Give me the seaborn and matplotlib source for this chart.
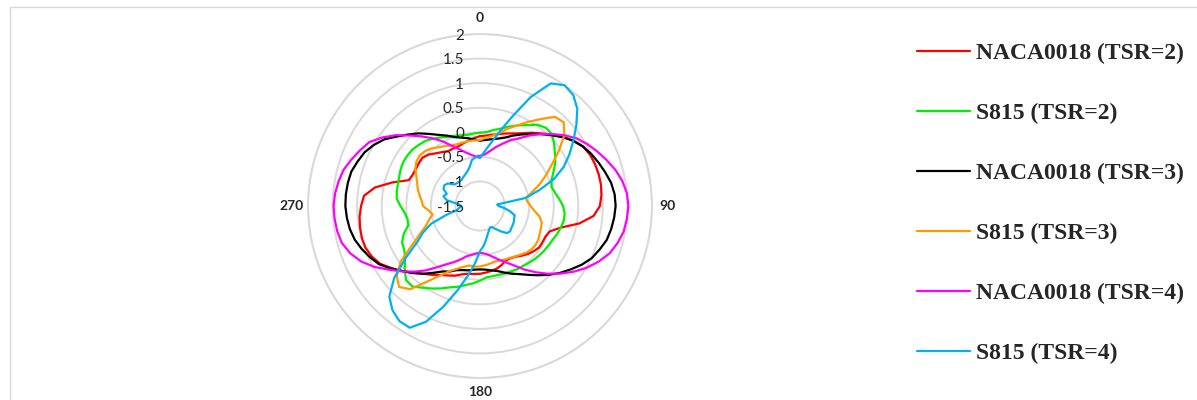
import numpy as np
import pandas as pd
import matplotlib
matplotlib.use("Agg")
import matplotlib.pyplot as plt
import matplotlib.transforms as mtransforms
from matplotlib.lines import Line2D
from matplotlib.font_manager import FontProperties
import seaborn as sns

# ---------------- data (azimuth in degrees, clockwise from top, 5 deg step) ----
series_names = ["NACA0018 (TSR=2)", "S815 (TSR=2)", "NACA0018 (TSR=3)",
                "S815 (TSR=3)", "NACA0018 (TSR=4)", "S815 (TSR=4)"]
series_colors = ["#ff0000", "#00f000", "#000000", "#ff9900", "#ff00ff", "#00b0f0"]

azimuth = list(range(0, 360, 5))

naca_tsr2 = [-0.08, -0.06, -0.03, 0.02, 0.07, 0.13, 0.21, 0.32, 0.43, 0.56,
             0.70, 0.81, 0.92, 0.97, 0.99, 1.00, 1.00, 0.98, 0.94, 0.82,
             0.55, 0.20, 0.01, -0.03, -0.03, -0.03, -0.07, -0.12, -0.18, -0.24,
             -0.27, -0.27, -0.22, -0.18, -0.16, -0.14, -0.12, -0.11, -0.10, -0.06,
             0.01, 0.06, 0.12, 0.21, 0.30, 0.42, 0.56, 0.70, 0.85, 0.93,
             0.98, 0.99, 0.98, 0.96, 0.92, 0.87, 0.67, 0.35, 0.04, 0.01,
             0.01, 0.02, 0.03, -0.02, -0.10, -0.16, -0.21, -0.21, -0.21, -0.18,
             -0.15, -0.11]

s815_tsr2 = [-0.01, 0.01, 0.07, 0.13, 0.22, 0.31, 0.40, 0.52, 0.58, 0.57,
             0.47, 0.36, 0.27, 0.15, 0.05, 0.01, 0.05, 0.12, 0.19, 0.23,
             0.23, 0.20, 0.17, 0.13, 0.11, 0.09, 0.07, 0.05, 0.02, 0.00,
             -0.01, -0.03, -0.04, -0.05, -0.05, -0.04, 0.02, 0.08, 0.13, 0.20,
             0.26, 0.35, 0.44, 0.53, 0.64, 0.63, 0.50, 0.36, 0.28, 0.25,
             0.15, 0.01, 0.00, 0.04, 0.12, 0.20, 0.22, 0.23, 0.25, 0.28,
             0.30, 0.30, 0.29, 0.26, 0.23, 0.17, 0.11, 0.05, 0.02, -0.01,
             -0.03, -0.02]

naca_tsr3 = [-0.17, -0.15, -0.12, -0.08, -0.02, 0.08, 0.18, 0.29, 0.41, 0.54,
             0.68, 0.82, 0.92, 1.00, 1.07, 1.14, 1.21, 1.25, 1.26, 1.24,
             1.21, 1.17, 1.09, 1.01, 0.89, 0.75, 0.62, 0.48, 0.34, 0.21,
             0.10, 0.02, -0.06, -0.13, -0.17, -0.20, -0.21, -0.20, -0.17, -0.15,
             -0.11, -0.03, 0.04, 0.16, 0.30, 0.43, 0.56, 0.72, 0.87, 0.97,
             1.06, 1.14, 1.19, 1.22, 1.24, 1.24, 1.23, 1.21, 1.15, 1.09,
             0.99, 0.87, 0.70, 0.56, 0.43, 0.29, 0.17, 0.08, -0.01, -0.06,
             -0.10, -0.14]

s815_tsr3 = [-0.16, -0.10, -0.05, 0.04, 0.18, 0.31, 0.48, 0.66, 0.87, 0.91,
             0.74, 0.46, 0.19, -0.02, -0.21, -0.40, -0.55, -0.53, -0.47, -0.39,
             -0.27, -0.20, -0.18, -0.16, -0.13, -0.12, -0.13, -0.16, -0.21, -0.25,
             -0.28, -0.30, -0.32, -0.33, -0.31, -0.29, -0.27, -0.26, -0.27, -0.22,
             -0.14, -0.04, 0.14, 0.38, 0.71, 0.83, 0.71, 0.47, 0.10, -0.15,
             -0.33, -0.43, -0.52, -0.45, -0.34, -0.31, -0.25, -0.19, -0.14, -0.07,
             0.02, 0.08, 0.10, 0.08, 0.03, -0.04, -0.09, -0.14, -0.16, -0.16,
             -0.16, -0.16]

naca_tsr4 = [-0.48, -0.45, -0.37, -0.26, -0.15, -0.02, 0.09, 0.25, 0.41, 0.57,
             0.74, 0.90, 1.02, 1.13, 1.24, 1.35, 1.44, 1.50, 1.52, 1.50,
             1.47, 1.40, 1.31, 1.17, 1.01, 0.83, 0.64, 0.45, 0.26, 0.08,
             -0.10, -0.23, -0.33, -0.42, -0.49, -0.53, -0.55, -0.53, -0.49, -0.44,
             -0.34, -0.24, -0.13, 0.02, 0.21, 0.39, 0.57, 0.76, 0.98, 1.17,
             1.31, 1.41, 1.45, 1.47, 1.48, 1.46, 1.42, 1.37, 1.28, 1.19,
             1.10, 0.93, 0.74, 0.53, 0.35, 0.18, 0.02, -0.15, -0.27, -0.37,
             -0.44, -0.49]

s815_tsr4 = [-0.52, -0.38, -0.19, 0.08, 0.45, 0.95, 1.38, 1.50, 1.45, 1.30,
             1.06, 0.82, 0.60, 0.38, 0.10, -0.25, -0.56, -1.15, -1.12, -1.00,
             -0.88, -0.77, -0.76, -0.74, -0.73, -0.72, -0.70, -0.72, -0.82, -0.92,
             -1.00, -1.02, -0.97, -0.90, -0.80, -0.68, -0.58, -0.33, -0.05, 0.28,
             0.68, 1.10, 1.36, 1.36, 1.27, 1.11, 0.78, 0.35, -0.02, -0.22,
             -0.44, -0.78, -1.02, -1.08, -1.12, -1.05, -0.81, -0.73, -0.78, -0.68,
             -0.66, -0.70, -0.82, -0.84, -0.85, -0.85, -0.82, -0.79, -0.75, -0.68,
             -0.55, -0.50]

series_values = [naca_tsr2, s815_tsr2, naca_tsr3, s815_tsr3, naca_tsr4, s815_tsr4]

radial_ticks = [-1.5, -1.0, -0.5, 0.0, 0.5, 1.0, 1.5, 2.0]
radial_labels = ["-1.5", "-1", "-0.5", "0", "0.5", "1", "1.5", "2"]
angle_ticks = [0, 90, 180, 270]
angle_labels = ["0", "90", "180", "270"]

# ---------------- long table (each closed curve repeats its first reading) ----
rows = []
for name, vals in zip(series_names, series_values):
    for a, v in zip(azimuth + [360], list(vals) + [vals[0]]):
        rows.append({"series": name, "theta": np.deg2rad(a), "value": v})
df = pd.DataFrame(rows)

# ---------------- figure ----------------
sns.set_style("white")
plt.rcParams["font.family"] = ["Lato", "DejaVu Sans"]

W, H = 1197, 400
fig = plt.figure(figsize=(W / 100, H / 100), dpi=100)
cx, cy, R = 480, 206, 172
ax = fig.add_axes([(cx - R) / W, (H - cy - R) / H, 2 * R / W, 2 * R / H],
                  projection="polar")

grid_color = "#d9d9d9"
ax.set_theta_zero_location("N")
ax.set_theta_direction(-1)

sns.lineplot(data=df, x="theta", y="value", hue="series", hue_order=series_names,
             palette=dict(zip(series_names, series_colors)), estimator=None,
             sort=False, legend=False, linewidth=1.6, ax=ax)

ax.set_ylim(-1.5, 2.0)
ax.set_yticks(radial_ticks)
ax.set_yticklabels([])
ax.yaxis.grid(True, color=grid_color, linewidth=1.4)
ax.xaxis.grid(False)
ax.set_xticks(np.deg2rad(angle_ticks))
ax.set_xticklabels([])
ax.tick_params(axis="x", length=0)
ax.spines["polar"].set_color(grid_color)
ax.spines["polar"].set_linewidth(1.4)
ax.set_xlabel("")
ax.set_ylabel("")
ax.set_facecolor("none")
for ln in ax.lines:
    ln.set_solid_capstyle("round")
    ln.set_solid_joinstyle("round")

# radial value labels along the 0-degree spoke
offset = mtransforms.ScaledTranslation(-16 / 100, -1.5 / 100, fig.dpi_scale_trans)
for r, lab in zip(radial_ticks, radial_labels):
    ax.text(0, r, lab, transform=ax.transData + offset, ha="right", va="center",
            fontsize=11, color="#262626", zorder=5)

# azimuth labels just outside the outer ring
angle_offsets = {0: (0, 16), 90: (15, 0), 180: (0, -14), 270: (-16, 0)}
for a, lab in zip(angle_ticks, angle_labels):
    dx, dy = angle_offsets[a]
    tr = ax.transData + mtransforms.ScaledTranslation(dx / 100, dy / 100, fig.dpi_scale_trans)
    ax.text(np.deg2rad(a), 2.0, lab, transform=tr, ha="center", va="center",
            fontsize=10, fontweight="bold", color="#262626", clip_on=False)

# chart-area border (top and left edges visible)
fig.add_artist(Line2D([10 / W, 1.0], [1 - 7 / H, 1 - 7 / H], transform=fig.transFigure,
                      color=grid_color, linewidth=1.0))
fig.add_artist(Line2D([10 / W, 10 / W], [1 - 7 / H, 0.0], transform=fig.transFigure,
                      color=grid_color, linewidth=1.0))

handles = [Line2D([], [], color=c, linewidth=1.6) for c in series_colors]
fig.legend(handles, series_names, loc="center left",
           bbox_to_anchor=(917 / W, 1 - 203.2 / H), frameon=False,
           prop=FontProperties(family="Liberation Serif", weight="bold", size=17),
           handlelength=2.25, handletextpad=0.25, labelspacing=1.63,
           borderpad=0, borderaxespad=0)

fig.savefig("out.png", dpi=100)
